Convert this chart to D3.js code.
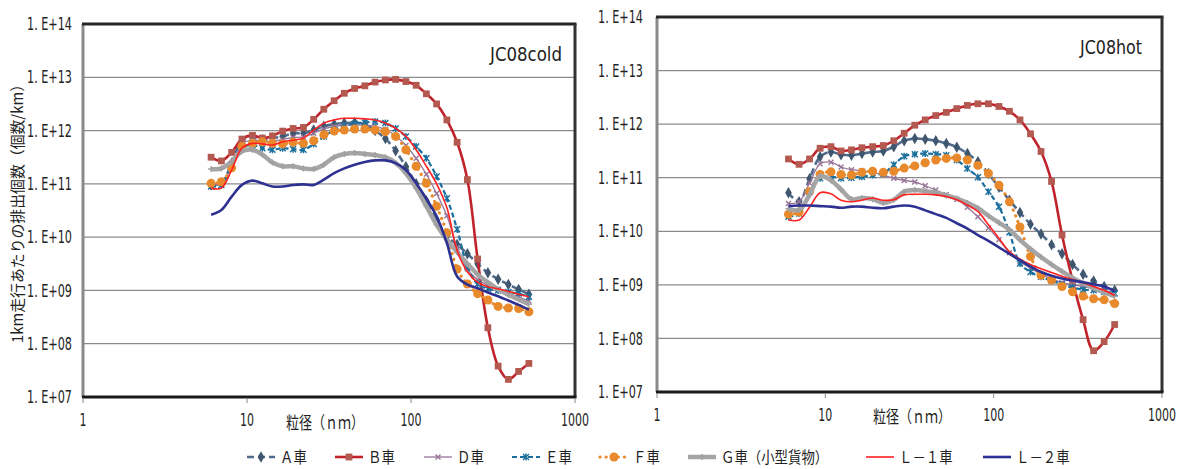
<!DOCTYPE html>
<html>
<head>
<meta charset="utf-8">
<script src="https://cdn.jsdelivr.net/npm/d3@7"></script>
<style>
  body { margin: 0; background: #fff; }
  text { font-family: "Liberation Sans Narrow", "DejaVu Sans Condensed", sans-serif; fill: #222; }
  .jp { font-family: "Noto Sans CJK JP", sans-serif; }
</style>
</head>
<body>
<div id="svg"></div>
<script>
// 粒径チャンネル (nm)
var diameters = [6.04, 6.98, 8.06, 9.31, 10.8, 12.4, 14.3, 16.5, 19.1, 22.1, 25.5, 29.4, 34.0, 39.2, 45.3, 52.3,
                 60.4, 69.8, 80.6, 93.1, 107.5, 124.1, 143.3, 165.5, 191.1, 220.7, 254.8, 294.3, 339.8, 392.4, 453.2, 523.3];

var seriesNames = ["Ａ車", "Ｂ車", "Ｄ車", "Ｅ車", "Ｆ車", "Ｇ車（小型貨物）", "Ｌ－１車", "Ｌ－２車"];
var yTickValues = [1e7, 1e8, 1e9, 1e10, 1e11, 1e12, 1e13, 1e14];
var yTickLabels = ["1. E+07", "1. E+08", "1. E+09", "1. E+10", "1. E+11", "1. E+12", "1. E+13", "1. E+14"];
var xTickValues = [1, 10, 100, 1000];
var xTickLabels = ["1", "10", "100", "1000"];

// 排出個数 (個数/km) の指数 log10 -- JC08cold
var coldA  = [10.98, 11.01, 11.39, 11.80, 11.86, 11.83, 11.86, 11.89, 11.95, 11.95, 12.01, 12.08, 12.12, 12.14, 12.15, 12.12,
              12.00, 11.85, 11.62, 11.32, 11.00, 10.68, 10.32, 10.02, 9.86, 9.69, 9.50, 9.33, 9.21, 9.11, 9.02, 8.93];
var coldB  = [11.50, 11.43, 11.59, 11.84, 11.91, 11.86, 11.90, 11.99, 12.04, 12.06, 12.21, 12.40, 12.56, 12.70, 12.79, 12.84,
              12.91, 12.95, 12.96, 12.92, 12.85, 12.69, 12.50, 12.20, 11.78, 11.08, 9.59, 8.30, 7.58, 7.33, 7.48, 7.63];
var coldD  = [10.98, 11.00, 11.35, 11.75, 11.82, 11.80, 11.80, 11.83, 11.87, 11.88, 11.95, 12.03, 12.08, 12.10, 12.10, 12.10,
              12.08, 12.02, 11.90, 11.72, 11.48, 11.18, 10.82, 10.40, 9.80, 9.40, 9.20, 9.10, 9.02, 8.95, 8.88, 8.80];
var coldE  = [10.95, 10.98, 11.33, 11.67, 11.73, 11.67, 11.64, 11.67, 11.65, 11.64, 11.75, 11.89, 12.01, 12.09, 12.13, 12.15,
              12.17, 12.14, 12.04, 11.89, 11.70, 11.48, 11.14, 10.73, 10.15, 9.45, 9.12, 9.03, 9.00, 8.97, 8.94, 8.88];
var coldF  = [11.01, 11.04, 11.30, 11.70, 11.76, 11.79, 11.76, 11.75, 11.78, 11.76, 11.81, 11.92, 11.99, 12.01, 12.03, 12.03,
              12.01, 11.98, 11.89, 11.64, 11.33, 11.01, 10.58, 10.08, 9.40, 9.12, 8.94, 8.82, 8.70, 8.67, 8.66, 8.60];
var coldG  = [11.28, 11.29, 11.42, 11.61, 11.64, 11.55, 11.40, 11.33, 11.33, 11.29, 11.28, 11.36, 11.50, 11.56, 11.58, 11.56,
              11.54, 11.50, 11.39, 11.20, 10.92, 10.58, 10.23, 9.95, 9.72, 9.50, 9.30, 9.15, 9.02, 8.92, 8.83, 8.74];
var coldL1 = [10.92, 10.92, 11.26, 11.67, 11.76, 11.75, 11.73, 11.79, 11.82, 11.86, 12.01, 12.14, 12.20, 12.23, 12.23, 12.22,
              12.20, 12.14, 12.04, 11.89, 11.64, 11.33, 11.00, 10.55, 9.75, 9.35, 9.15, 9.07, 9.03, 8.98, 8.93, 8.88];
var coldL2 = [10.42, 10.51, 10.76, 10.98, 11.06, 11.01, 10.95, 10.95, 10.98, 10.99, 10.98, 11.08, 11.20, 11.29, 11.36, 11.41,
              11.44, 11.44, 11.39, 11.26, 11.01, 10.72, 10.39, 9.89, 9.26, 9.11, 9.04, 8.96, 8.89, 8.81, 8.73, 8.64];

// JC08hot
var hotA  = [10.72, 10.55, 10.98, 11.39, 11.48, 11.43, 11.42, 11.45, 11.48, 11.50, 11.58, 11.69, 11.73, 11.72, 11.69, 11.64,
             11.57, 11.45, 11.30, 11.08, 10.82, 10.58, 10.35, 10.13, 9.95, 9.75, 9.58, 9.38, 9.20, 9.07, 8.97, 8.90];
var hotB  = [11.35, 11.25, 11.35, 11.55, 11.58, 11.50, 11.52, 11.56, 11.58, 11.60, 11.69, 11.83, 11.98, 12.08, 12.16, 12.22,
             12.29, 12.35, 12.38, 12.38, 12.33, 12.24, 12.08, 11.82, 11.49, 10.93, 9.93, 9.08, 8.35, 7.77, 7.94, 8.26];
var hotD  = [10.52, 10.55, 10.90, 11.26, 11.29, 11.20, 11.15, 11.13, 11.10, 11.05, 10.99, 10.95, 10.92, 10.85, 10.77, 10.68,
             10.60, 10.45, 10.27, 10.06, 9.84, 9.60, 9.43, 9.31, 9.20, 9.11, 9.04, 9.00, 8.97, 8.93, 8.90, 8.84];
var hotE  = [10.27, 10.33, 10.74, 10.99, 11.02, 10.99, 11.00, 11.02, 11.05, 11.08, 11.24, 11.40, 11.44, 11.45, 11.44, 11.42,
             11.33, 11.17, 11.01, 10.74, 10.46, 9.98, 9.40, 9.24, 9.15, 9.08, 9.01, 8.95, 8.91, 8.90, 8.87, 8.84];
var hotF  = [10.32, 10.36, 10.74, 11.06, 11.11, 11.06, 11.05, 11.10, 11.12, 11.10, 11.12, 11.18, 11.22, 11.28, 11.33, 11.36,
             11.37, 11.33, 11.23, 11.08, 10.86, 10.55, 10.08, 9.53, 9.18, 9.09, 8.97, 8.87, 8.79, 8.74, 8.72, 8.65];
var hotG  = [10.42, 10.40, 10.68, 11.03, 10.95, 10.78, 10.60, 10.62, 10.60, 10.53, 10.59, 10.74, 10.77, 10.75, 10.72, 10.67,
             10.61, 10.53, 10.43, 10.29, 10.16, 10.03, 9.84, 9.67, 9.52, 9.38, 9.25, 9.13, 9.03, 8.94, 8.86, 8.79];
var hotL1 = [10.21, 10.21, 10.45, 10.72, 10.70, 10.58, 10.55, 10.58, 10.62, 10.58, 10.59, 10.68, 10.69, 10.69, 10.68, 10.65,
             10.59, 10.49, 10.37, 10.12, 9.87, 9.62, 9.48, 9.38, 9.30, 9.23, 9.16, 9.10, 9.04, 8.97, 8.90, 8.80];
var hotL2 = [10.47, 10.48, 10.48, 10.47, 10.46, 10.44, 10.46, 10.46, 10.44, 10.43, 10.46, 10.48, 10.46, 10.39, 10.32, 10.25,
             10.15, 10.05, 9.93, 9.82, 9.70, 9.58, 9.46, 9.34, 9.24, 9.17, 9.12, 9.08, 9.05, 9.01, 8.97, 8.88];

var coldSeries = [coldA, coldB, coldD, coldE, coldF, coldG, coldL1, coldL2];
var hotSeries  = [hotA, hotB, hotD, hotE, hotF, hotG, hotL1, hotL2];

// 系列ごとの線種
var styles = [
  { color: "#4f6a8a", width: 2.6, dash: "7,4",   cap: "butt",  marker: "diamond", mcolor: "#3f566f" },
  { color: "#c1232c", width: 2.6, dash: null,    cap: "butt",  marker: "square",  mcolor: "#b4594f" },
  { color: "#977598", width: 1.3, dash: null,    cap: "butt",  marker: "x",       mcolor: "#977598" },
  { color: "#1b6f9c", width: 2.2, dash: "5,3",   cap: "butt",  marker: "star",    mcolor: "#1b6f9c" },
  { color: "#e8892b", width: 3.2, dash: "0.1,6", cap: "round", marker: "circle",  mcolor: "#e8892b" },
  { color: "#a5a5a5", width: 4.5, dash: null,    cap: "butt",  marker: "plus",    mcolor: "#a0a0a0" },
  { color: "#ff2020", width: 1.6, dash: null,    cap: "butt",  marker: null },
  { color: "#2e3192", width: 2.6, dash: null,    cap: "butt",  marker: null }
];

function markerPath(type) {
  if (type == "diamond") return d3.symbol(d3.symbolDiamond, 38)();
  if (type == "square") return d3.symbol(d3.symbolSquare, 46)();
  if (type == "circle") return d3.symbol(d3.symbolCircle, 64)();
  if (type == "x") return "M-2.5,-2.5L2.5,2.5M-2.5,2.5L2.5,-2.5";
  if (type == "star") return "M-3,-3L3,3M-3,3L3,-3M0,-3.5L0,3.5";
  if (type == "plus") return "M-3,0L3,0M0,-3L0,3";
  return null;
}

function isFilled(type) {
  return type == "diamond" || type == "square" || type == "circle";
}

function drawMarker(g, type, color, x, y) {
  var p = g.append("path")
      .attr("d", markerPath(type))
      .attr("transform", "translate(" + x + "," + y + ")");
  if (isFilled(type)) {
    p.attr("fill", color);
  } else {
    p.attr("fill", "none").attr("stroke", color).attr("stroke-width", 1.4);
  }
}

var width = 1185;
var height = 469;

var svg = d3.select("#svg").append("svg")
    .attr("width", width)
    .attr("height", height);

var panels = [
  { title: "JC08cold", titleLen: 72, series: coldSeries, left: 83, right: 575, top: 24, bottom: 397,
    labelX: 72, titleX: 562, titleY: 61, xTitleX: 325, xTitleY: 429, xTickY: 426 },
  { title: "JC08hot", titleLen: 62, series: hotSeries, left: 657, right: 1162, top: 17, bottom: 392,
    labelX: 643, titleX: 1142, titleY: 54, xTitleX: 912, xTitleY: 423, xTickY: 421 }
];

panels.forEach(function(p) {
  var x = d3.scaleLog().domain([1, 1000]).range([p.left, p.right]);
  var y = d3.scaleLog().domain([1e7, 1e14]).range([p.bottom, p.top]);

  var g = svg.append("g");

  // 目盛線
  g.selectAll(".grid")
    .data(yTickValues.slice(1, -1))
    .enter().append("line")
      .attr("x1", p.left).attr("x2", p.right)
      .attr("y1", function(d) { return y(d); })
      .attr("y2", function(d) { return y(d); })
      .attr("stroke", "#8c8c8c")
      .attr("stroke-width", 1.3);

  // 枠
  g.append("line").attr("x1", p.left).attr("x2", p.left).attr("y1", p.top).attr("y2", p.bottom)
      .attr("stroke", "#8a8a8a").attr("stroke-width", 3);
  g.append("line").attr("x1", p.left - 1).attr("x2", p.right + 1.5).attr("y1", p.top).attr("y2", p.top)
      .attr("stroke", "#262626").attr("stroke-width", 3);
  g.append("line").attr("x1", p.right).attr("x2", p.right).attr("y1", p.top).attr("y2", p.bottom)
      .attr("stroke", "#333").attr("stroke-width", 3);
  g.append("line").attr("x1", p.left - 1).attr("x2", p.right + 1.5).attr("y1", p.bottom).attr("y2", p.bottom)
      .attr("stroke", "#1a1a1a").attr("stroke-width", 3);

  // x 軸の目盛
  g.selectAll(".xtick")
    .data(xTickValues)
    .enter().append("line")
      .attr("x1", function(d) { return x(d); })
      .attr("x2", function(d) { return x(d); })
      .attr("y1", p.bottom + 1).attr("y2", p.bottom + 6)
      .attr("stroke", "#888").attr("stroke-width", 1);

  g.selectAll(".xlabel")
    .data(xTickValues)
    .enter().append("text")
      .attr("transform", function(d) { return "translate(" + x(d) + "," + p.xTickY + ") scale(0.72,1)"; })
      .attr("text-anchor", "middle")
      .attr("font-size", 17)
      .text(function(d, i) { return xTickLabels[i]; });

  g.selectAll(".ylabel")
    .data(yTickValues)
    .enter().append("text")
      .attr("x", p.labelX)
      .attr("y", function(d) { return y(d); })
      .attr("dy", "0.36em")
      .attr("text-anchor", "end")
      .attr("font-size", 17)
      .attr("textLength", 45)
      .attr("lengthAdjust", "spacingAndGlyphs")
      .text(function(d, i) { return yTickLabels[i]; });

  g.append("text")
      .attr("x", p.titleX).attr("y", p.titleY)
      .attr("text-anchor", "end")
      .attr("font-size", 20)
      .attr("textLength", p.titleLen)
      .attr("lengthAdjust", "spacingAndGlyphs")
      .text(p.title);

  g.append("text")
      .attr("class", "jp")
      .attr("x", p.xTitleX).attr("y", p.xTitleY)
      .attr("text-anchor", "middle")
      .attr("font-size", 17)
      .attr("textLength", 78)
      .attr("lengthAdjust", "spacingAndGlyphs")
      .text("粒径（ｎｍ）");

  var line = d3.line()
      .x(function(d) { return x(d[0]); })
      .y(function(d) { return y(Math.pow(10, d[1])); })
      .curve(d3.curveCatmullRom.alpha(0.5));

  p.series.forEach(function(values, si) {
    var st = styles[si];
    var pts = diameters.map(function(dd, i) { return [dd, values[i]]; });

    g.append("path")
        .attr("d", line(pts))
        .attr("fill", "none")
        .attr("stroke", st.color)
        .attr("stroke-width", st.width)
        .attr("stroke-linecap", st.cap)
        .attr("stroke-linejoin", "round")
        .attr("stroke-dasharray", st.dash);

    if (st.marker) {
      var mg = g.append("g");
      pts.forEach(function(d) {
        drawMarker(mg, st.marker, st.mcolor, x(d[0]), y(Math.pow(10, d[1])));
      });
    }
  });
});

// 縦軸タイトル
svg.append("text")
    .attr("class", "jp")
    .attr("transform", "translate(23,210) rotate(-90)")
    .attr("text-anchor", "middle")
    .attr("font-size", 15)
    .attr("textLength", 266)
    .attr("lengthAdjust", "spacingAndGlyphs")
    .text("1km走行あたりの排出個数（個数/km）");

// 凡例
var legendX = [247, 335, 424, 512, 600, 688, 866, 983];
var legendY = 457;

var legend = svg.selectAll(".legend")
    .data(seriesNames)
  .enter().append("g")
    .attr("transform", function(d, i) { return "translate(" + legendX[i] + "," + legendY + ")"; });

legend.each(function(name, i) {
  var st = styles[i];
  var lg = d3.select(this);
  lg.append("line")
      .attr("x1", 0).attr("x2", 28).attr("y1", 0).attr("y2", 0)
      .attr("stroke", st.color)
      .attr("stroke-width", st.width)
      .attr("stroke-linecap", st.cap)
      .attr("stroke-dasharray", st.dash);
  if (st.marker) drawMarker(lg, st.marker, st.mcolor, 14, 0);
  lg.append("text")
      .attr("class", "jp")
      .attr("x", 33).attr("y", 0)
      .attr("dy", "0.36em")
      .attr("font-size", 15.5)
      .attr("textLength", name.length * 13.4)
      .attr("lengthAdjust", "spacingAndGlyphs")
      .attr("fill", "#333")
      .text(name);
});
</script>
</body>
</html>
